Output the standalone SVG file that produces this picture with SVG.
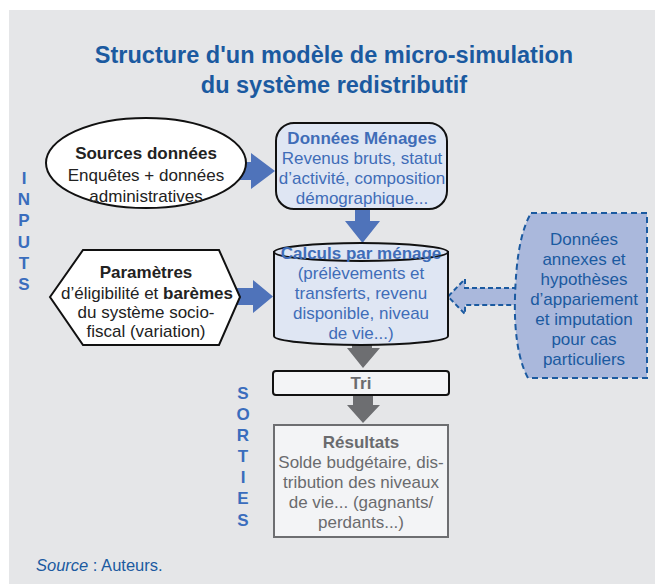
<svg xmlns="http://www.w3.org/2000/svg" width="655" height="584" viewBox="0 0 655 584">
<style>
text{font-family:"Liberation Sans","Roboto",Arial,sans-serif;text-anchor:middle}
.t{font-size:23.5px;font-weight:bold;fill:#1b5aa0}
.b{font-size:17px}
.bold{font-weight:bold}
.k{fill:#222}
.bl{fill:#3f6db8}
.dk{fill:#1b5aa0}
.g{fill:#6a6b6e}
.side{font-size:17px;font-weight:bold;fill:#3a6dbd}
.arrB{fill:#4f73ba}
.arrG{fill:#6d6e71}
</style>
<rect x="9" y="10" width="646" height="574" fill="#e5e6e8"/>
<text class="t" x="334" y="63">Structure d'un modèle de micro-simulation</text>
<text class="t" x="334" y="93">du système redistributif</text>

<g id="inputs-label" class="side">
<text x="24" y="184">I</text><text x="24" y="205">N</text><text x="24" y="226">P</text><text x="24" y="248">U</text><text x="24" y="269">T</text><text x="24" y="290">S</text>
</g>
<g id="sorties-label" class="side">
<text x="243" y="399">S</text><text x="243" y="420">O</text><text x="243" y="441">R</text><text x="243" y="462">T</text><text x="243" y="483">I</text><text x="243" y="504">E</text><text x="243" y="526">S</text>
</g>

<g id="connectors">
<path class="arrB" d="M236,162 L251,162 L251,153 L275,171 L251,189 L251,180 L236,180 Z"/>
<path class="arrB" d="M228,288 L253,288 L253,280 L273,296.5 L253,313 L253,305 L228,305 Z"/>
<path class="arrB" d="M355,206 L370,206 L370,221 L380,221 L362.5,243 L345,221 L355,221 Z"/>
<path class="arrG" d="M352,338 L372,338 L372,348 L380,348 L363,368 L347,348 L352,348 Z"/>
<path class="arrG" d="M353,395 L373,395 L373,405 L380,405 L363,423 L347,405 L353,405 Z"/>
<path d="M517,288 L465,288 L465,279 L448,296.5 L465,314 L465,305 L517,305" fill="#aab8dc" stroke="#1b5aa0" stroke-width="2" stroke-dasharray="5,3"/>
</g>

<g id="sources">
<ellipse cx="146" cy="163" rx="100" ry="45" fill="#fff" stroke="#111" stroke-width="2"/>
<text class="b bold k" x="146" y="159" font-size="18">Sources données</text>
<text class="b k" x="146" y="181">Enquêtes + données</text>
<text class="b k" x="146" y="202">administratives</text>
</g>

<g id="donnees-menages">
<rect x="276" y="123" width="171" height="86" rx="18" fill="#dfe6f3" stroke="#111" stroke-width="2"/>
<text class="b bold bl" x="362" y="144">Données Ménages</text>
<text class="b bl" x="362" y="164">Revenus bruts, statut</text>
<text class="b bl" x="362" y="184">d’activité, composition</text>
<text class="b bl" x="362" y="204">démographique...</text>
</g>

<g id="parametres">
<polygon points="50,297 83,250 219,250 240,297 219,345 83,345" fill="#fff" stroke="#111" stroke-width="2"/>
<text class="b bold k" x="146" y="278" font-size="18">Paramètres</text>
<text class="b k" x="147" y="299">d’éligibilité et <tspan font-weight="bold">barèmes</tspan></text>
<text class="b k" x="146" y="318">du système socio-</text>
<text class="b k" x="146" y="337">fiscal (variation)</text>
</g>

<g id="calculs">
<path d="M274,252 L274,336 A87,9 0 0 0 448,336 L448,252 Z" fill="#dfe6f3" stroke="#111" stroke-width="2"/>
<ellipse cx="361" cy="252" rx="87" ry="9" fill="#dfe6f3" stroke="#111" stroke-width="2"/>
<text class="b bold bl" x="361" y="259" font-size="18">Calculs par ménage</text>
<text class="b bl" x="361" y="279">(prélèvements et</text>
<text class="b bl" x="361" y="299">transferts, revenu</text>
<text class="b bl" x="361" y="319">disponible, niveau</text>
<text class="b bl" x="361" y="339">de vie...)</text>
</g>

<g id="donnees-annexes">
<path d="M531,213 L647,213 L647,378 L528,378 C518,360 514,330 515,297 C516,262 520,232 531,213 Z" fill="#aab8dc" stroke="#1b5aa0" stroke-width="2" stroke-dasharray="6,4"/>
<text class="b dk" x="584" y="245">Données</text>
<text class="b dk" x="584" y="265">annexes et</text>
<text class="b dk" x="584" y="285">hypothèses</text>
<text class="b dk" x="584" y="305">d’appariement</text>
<text class="b dk" x="584" y="325">et imputation</text>
<text class="b dk" x="584" y="345">pour cas</text>
<text class="b dk" x="584" y="365">particuliers</text>
</g>

<g id="tri">
<rect x="273" y="371" width="176" height="24" rx="3" fill="#f3f4f6" stroke="#111" stroke-width="2"/>
<text class="b bold g" x="361" y="389" font-size="18">Tri</text>
</g>

<g id="resultats">
<rect x="274" y="425" width="174" height="112" fill="#f3f4f6" stroke="#6d6e71" stroke-width="2"/>
<text class="b bold g" x="361" y="448" font-size="18">Résultats</text>
<text class="b g" x="361" y="468">Solde budgétaire, dis-</text>
<text class="b g" x="361" y="488">tribution des niveaux</text>
<text class="b g" x="361" y="508">de vie... (gagnants/</text>
<text class="b g" x="361" y="528">perdants...)</text>
</g>

<text x="36" y="571" font-size="16.5" fill="#1b5aa0" style="text-anchor:start"><tspan font-style="italic">Source</tspan> : Auteurs.</text>
</svg>
